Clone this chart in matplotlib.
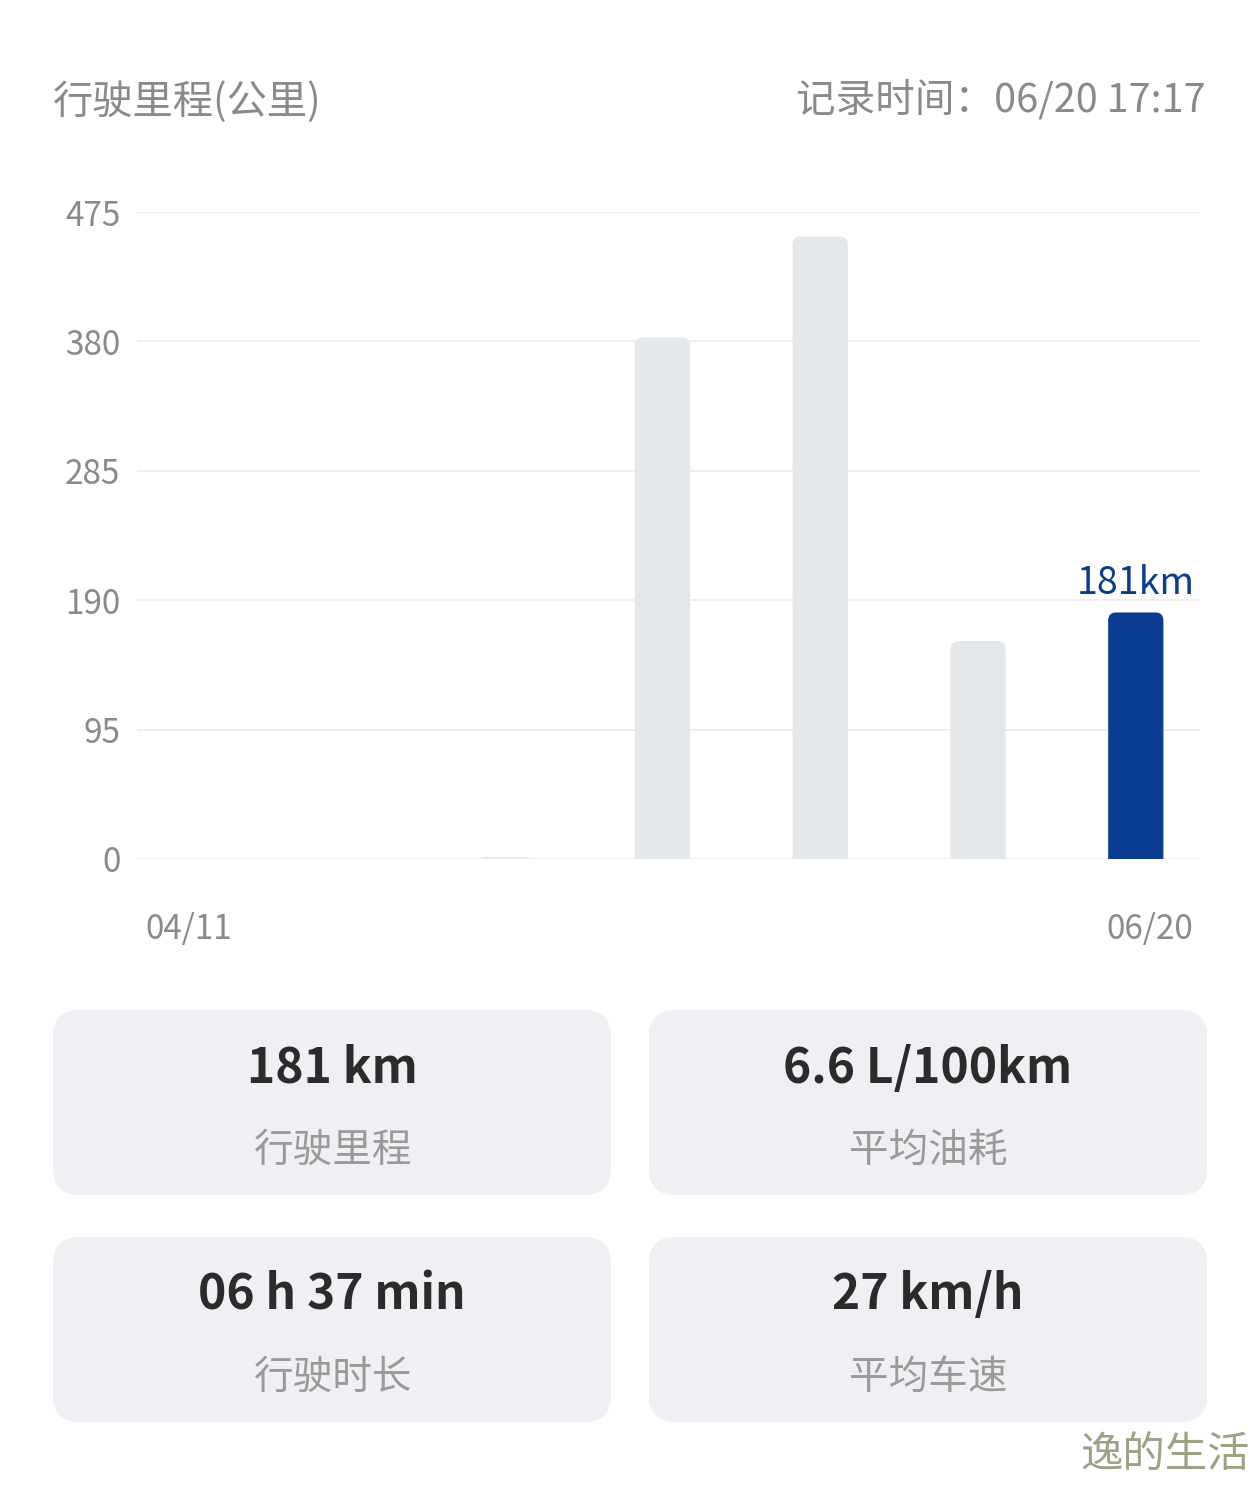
import matplotlib
matplotlib.use("Agg")
import matplotlib.pyplot as plt
import matplotlib.transforms as mtransforms
from matplotlib.patches import FancyBboxPatch

plt.rcParams['font.family'] = ['Noto Sans CJK SC', 'DejaVu Sans']

# data
dates = ["04/11", "", "", "", "", "", "06/20"]
mileage = [0, 0, 1.5, 383, 457, 160, 181]
y_ticks = [0, 95, 190, 285, 380, 475]
highlight = 6
cards = [("181 km", "行驶里程"), ("6.6 L/100km", "平均油耗"),
         ("06 h 37 min", "行驶时长"), ("27 km/h", "平均车速")]

W, H = 1260, 1485
fig = plt.figure(figsize=(W / 100, H / 100), dpi=100)
fig.patch.set_facecolor("white")

# background layer in pixel coords
bg = fig.add_axes([0, 0, 1, 1])
bg.set_xlim(0, W)
bg.set_ylim(H, 0)
bg.axis("off")

bg.text(53, 102, "行驶里程(公里)", fontsize=29, color="#8a8a8a", va="center", ha="left")
bg.text(1206, 100, "记录时间：06/20 17:17", fontsize=28.5, color="#8a8a8a", va="center", ha="right")

# cards
card_w, card_h = 558, 185
for i, (val, lab) in enumerate(cards):
    cx = 53 + (i % 2) * 596
    cy = 1010 + (i // 2) * 227
    bg.add_patch(FancyBboxPatch((cx, cy), card_w, card_h,
                                boxstyle="round,pad=0,rounding_size=26",
                                fc="#f0f0f4", ec="none"))
    bg.text(cx + card_w / 2, cy + 58, val, fontsize=34.5, fontweight="bold",
            color="#2b2b2b", ha="center", va="center")
    bg.text(cx + card_w / 2, cy + 141, lab, fontsize=28.5, color="#9a9a9a",
            ha="center", va="center")

bg.text(1250, 1455, "逸的生活", fontsize=30.5, color="#9ea283", ha="right", va="center")

# chart axes
left, right, top, bottom = 137, 1200, 212, 859
ax = fig.add_axes([left / W, 1 - bottom / H, (right - left) / W, (bottom - top) / H])
ax.set_facecolor("none")
x = list(range(len(mileage)))
ax.set_xlim(-0.33, 6.407)
ax.set_ylim(0, 475)

for s in ax.spines.values():
    s.set_visible(False)
ax.set_yticks(y_ticks)
ax.set_yticklabels([str(t) for t in y_ticks], fontsize=24, color="#8a8a8a")
ax.tick_params(axis="y", length=0, pad=12)
ax.yaxis.grid(True, color="#ebebeb", linewidth=1.2)
ax.set_axisbelow(True)

ax.set_xticks(x)
ax.set_xticklabels(dates, fontsize=24, color="#8a8a8a")
ax.tick_params(axis="x", length=0, pad=38)
lbls = ax.get_xticklabels()
lbls[-1].set_transform(lbls[-1].get_transform() +
                       mtransforms.ScaledTranslation(0.14, 0, fig.dpi_scale_trans))

# bars with rounded tops
bw = 0.35
px_x = (right - left) / (6.407 + 0.33)
px_y = (bottom - top) / 475
r_px = 8
for xi, v in zip(x, mileage):
    if v <= 0:
        continue
    col = "#0a3d91" if xi == highlight else "#e4e8eb"
    r = r_px / px_x
    ax.add_patch(FancyBboxPatch((xi - bw / 2, -20), bw, v + 20,
                                boxstyle=f"round,pad=0,rounding_size={r}",
                                mutation_aspect=(r_px / px_y) / r,
                                fc=col, ec="none", zorder=3))

ax.text(highlight, mileage[highlight] + 7, f"{mileage[highlight]}km",
        fontsize=27, color="#0a3d91", ha="center", va="bottom", clip_on=False)

fig.savefig("out.png", dpi=100, facecolor="white")
